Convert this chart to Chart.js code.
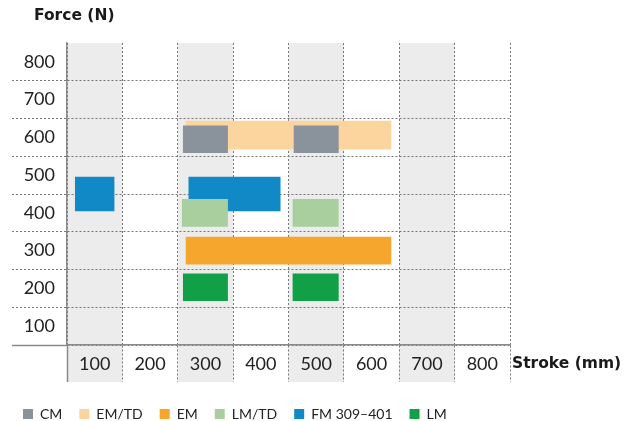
<!DOCTYPE html>
<html>
<head>
<meta charset="utf-8">
<script src="https://cdn.jsdelivr.net/npm/chart.js@4.4.0/dist/chart.umd.min.js"></script>
<style>
  html, body { margin: 0; padding: 0; background: #fff; }
  #wrap { width: 636px; height: 421px; }
</style>
</head>
<body>
<div id="wrap"><canvas id="myChart"></canvas></div>
<script>
// Axis ticks (column / row centres)
var strokeTicks = [100, 200, 300, 400, 500, 600, 700, 800];
var forceTicks = [100, 200, 300, 400, 500, 600, 700, 800];
var shadedStrokes = [100, 300, 500, 700];

// Series: stroke ranges (mm) at a force level (N)
var cmRanges = [[260, 340], [460, 540]];
var cmForce = 595;
var emtdRanges = [[265, 635]];
var emtdForce = 606;
var emRanges = [[265, 635]];
var emForce = 300;
var lmtdRanges = [[258, 340], [458, 540]];
var lmtdForce = 400;
var fmRanges = [[65, 135], [270, 435]];
var fmForce = 450;
var lmRanges = [[260, 340], [458, 540]];
var lmForce = 203;

function toPoints(ranges, force) {
  return ranges.map(function (r) { return { x: r, y: force }; });
}

Chart.defaults.font.family = 'Lato';
Chart.defaults.color = '#222';

var dotColor = '#777';
var axisColor = '#8a8a8a';

// shaded columns + axis titles
var backdrop = {
  id: 'backdrop',
  beforeDraw: function (chart) {
    var ctx = chart.ctx, x = chart.scales.x, area = chart.chartArea;
    ctx.save();
    ctx.fillStyle = '#ececec';
    shadedStrokes.forEach(function (v) {
      var l = x.getPixelForValue(v - 50), r = x.getPixelForValue(v + 50);
      ctx.fillRect(l, area.top, r - l, area.bottom + x.options.grid.tickLength - area.top);
    });
    ctx.restore();
  },
  afterDraw: function (chart) {
    var ctx = chart.ctx, area = chart.chartArea;
    ctx.save();
    ctx.fillStyle = '#1a1a1a';
    ctx.font = 'bold 15.5px "DejaVu Sans"';
    ctx.textBaseline = 'middle';
    ctx.textAlign = 'left';
    ctx.fillText('Force (N)', 34, 16);
    ctx.fillText('Stroke (mm)', area.right + 2, area.bottom + 19);
    ctx.restore();
  }
};

var ctx = document.getElementById('myChart');
var myChart = new Chart(ctx, {
  type: 'bar',
  data: {
    datasets: [
      { label: 'CM', data: toPoints(cmRanges, cmForce), backgroundColor: '#8a939b', barThickness: 27 },
      { label: 'EM/TD', data: toPoints(emtdRanges, emtdForce), backgroundColor: '#fcd49e', barThickness: 28 },
      { label: 'EM', data: toPoints(emRanges, emForce), backgroundColor: '#f6a52d', barThickness: 27 },
      { label: 'LM/TD', data: toPoints(lmtdRanges, lmtdForce), backgroundColor: '#a9cf9f', barThickness: 27 },
      { label: 'FM 309–401', data: toPoints(fmRanges, fmForce), backgroundColor: '#1189c7', barThickness: 34 },
      { label: 'LM', data: toPoints(lmRanges, lmForce), backgroundColor: '#11a045', barThickness: 27 }
    ]
  },
  options: {
    indexAxis: 'y',
    responsive: true,
    maintainAspectRatio: false,
    animation: false,
    layout: { padding: { left: 6, right: 126, top: 43, bottom: 0 } },
    datasets: { bar: { grouped: false, borderWidth: 0 } },
    plugins: {
      legend: {
        position: 'bottom',
        align: 'start',
        maxHeight: 31,
        labels: { boxWidth: 10, boxHeight: 10, padding: 17, color: '#222', font: { size: 14 } }
      },
      tooltip: { enabled: false }
    },
    scales: {
      x: {
        type: 'linear',
        offset: false,
        min: 50,
        max: 850,
        afterBuildTicks: function (s) { s.ticks = strokeTicks.map(function (v) { return { value: v }; }); },
        afterFit: function (s) { s.height = 45; },
        grid: {
          offset: true,
          color: dotColor,
          tickLength: 37,
          tickColor: function (c) { return c.index === 0 ? axisColor : dotColor; },
          tickWidth: function (c) { return c.index === 0 ? 1.5 : 1; },
          tickBorderDash: function (c) { return c.index === 0 ? [] : [2, 2]; }
        },
        border: { color: axisColor, width: 1.5, dash: [2, 2] },
        ticks: { padding: -29, autoSkip: false, maxRotation: 0, color: '#222', font: { size: 18 } }
      },
      y: {
        type: 'linear',
        offset: false,
        min: 50,
        max: 850,
        afterBuildTicks: function (s) { s.ticks = forceTicks.map(function (v) { return { value: v }; }); },
        afterFit: function (s) { s.width = 61; },
        grid: {
          offset: true,
          color: function (c) { return c.type === 'tick' ? dotColor : 'rgba(0,0,0,0)'; },
          tickLength: 55,
          tickColor: function (c) {
            if (c.type !== 'tick') return 'rgba(0,0,0,0)';
            return c.index === 0 ? axisColor : dotColor;
          },
          tickWidth: function (c) { return c.index === 0 ? 1.5 : 1; },
          tickBorderDash: function (c) { return c.index === 0 ? [] : [2, 2]; }
        },
        border: { color: axisColor, width: 1.5, dash: [2, 2] },
        ticks: { padding: -43, autoSkip: false, color: '#222', font: { size: 18 } }
      }
    }
  },
  plugins: [backdrop]
});
</script>
</body>
</html>
